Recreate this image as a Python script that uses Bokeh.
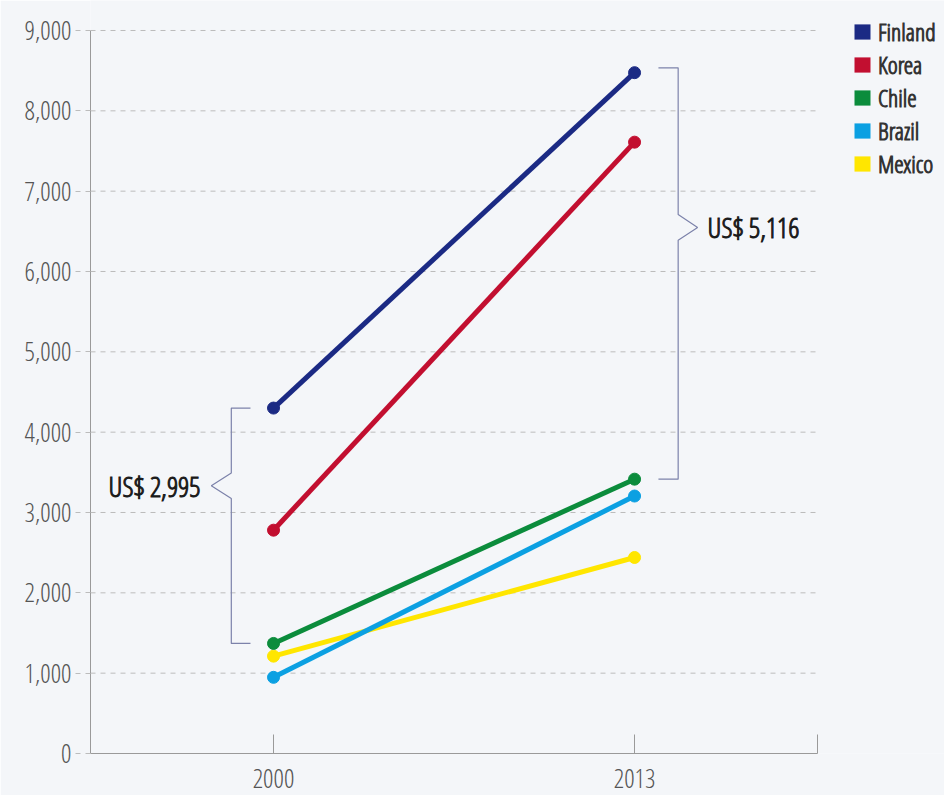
from bokeh.plotting import figure
from bokeh.models import (Range1d, FixedTicker, NumeralTickFormatter, CustomJSTickFormatter,
                          Legend, LegendItem)
from bokeh.core.properties import value
from bokeh.embed import file_html
from bokeh.resources import INLINE

# ---------------- data ----------------
years = [2000, 2013]
countries = ["Finland", "Korea", "Chile", "Brazil", "Mexico"]
finland = [4300, 8475]
korea = [2780, 7610]
chile = [1370, 3415]
brazil = [948, 3205]
mexico = [1212, 2440]
series = [finland, korea, chile, brazil, mexico]
colors = ["#1b2a84", "#c20f30", "#0b8c3c", "#0ba0e2", "#ffe600"]
y_ticks = [0, 1000, 2000, 3000, 4000, 5000, 6000, 7000, 8000, 9000]
gap_labels = ["US$ 2,995", "US$ 5,116"]

# ---------------- styling ----------------
BG = "#f4f6f9"
AXFONT = "Open Sans Condensed Light"
TXFONT = "Open Sans Condensed Light"
BRACKET = "#7c82aa"
GRID = "#bcbcbc"

x_start, x_end = 1993.41, 2019.59
x_frame_end = 2024.16
y_max = 9000
y_frame_end = 9373.4

p = figure(width=944, height=795, output_backend="svg", toolbar_location=None,
           x_range=Range1d(x_start, x_frame_end), y_range=Range1d(0, y_frame_end),
           min_border_left=90, min_border_right=0, min_border_top=0, min_border_bottom=42,
           background_fill_color=BG, border_fill_color=BG, outline_line_color=None)

# y axis
p.yaxis.ticker = FixedTicker(ticks=y_ticks)
p.yaxis.bounds = (0, y_max)
p.yaxis.formatter = NumeralTickFormatter(format="0,0")
p.yaxis.axis_line_color = "#9a9a9a"
p.yaxis.major_tick_in = 0
p.yaxis.major_tick_out = 15
p.yaxis.major_tick_line_color = GRID
p.yaxis.major_tick_line_dash = "5 5"
p.yaxis.minor_tick_line_color = None
p.yaxis.major_label_text_font = AXFONT
p.yaxis.major_label_text_font_size = "26px"
p.yaxis.major_label_text_color = "#555555"
p.yaxis.major_label_standoff = 4

# x axis
p.xaxis.ticker = FixedTicker(ticks=years + [x_end])
p.xaxis.bounds = (x_start, x_end)
p.xaxis.formatter = CustomJSTickFormatter(code="return tick > 2015 ? '' : String(Math.round(tick));")
p.xaxis.axis_line_color = "#9a9a9a"
p.xaxis.major_tick_line_color = "#9a9a9a"
p.xaxis.major_tick_in = 19
p.xaxis.major_tick_out = 0
p.xaxis.minor_tick_line_color = None
p.xaxis.major_label_text_font = AXFONT
p.xaxis.major_label_text_font_size = "26px"
p.xaxis.major_label_text_color = "#555555"
p.xaxis.major_label_standoff = 15

p.xgrid.grid_line_color = None
p.ygrid.grid_line_color = None
grid_y = y_ticks[1:]
p.segment(x0=[x_start] * len(grid_y), x1=[x_end] * len(grid_y), y0=grid_y, y1=grid_y,
          line_color=GRID, line_dash="5 5", line_width=1)

# ---------------- brackets ----------------
def bracket(x_line, x_tick, x_tip, y_top, y_bot, frac, half):
    y_tip = y_top - frac * (y_top - y_bot)
    xs = [x_tick, x_line, x_line, x_tip, x_line, x_line, x_tick]
    ys = [y_top, y_top, y_tip + half, y_tip, y_tip - half, y_bot, y_bot]
    p.line(xs, ys, line_color=BRACKET, line_width=1.2)
    return y_tip

tip0 = bracket(years[0] - 1.52, years[0] - 0.83, years[0] - 2.24,
               finland[0], chile[0], 0.33, 160)
tip1 = bracket(years[1] + 1.57, years[1] + 0.86, years[1] + 2.27,
               finland[1] + 60, chile[1], 0.388, 160)

for xx, yy, lab, al in [(years[0] - 2.63, tip0, gap_labels[0], "right"),
                        (years[1] + 2.63, tip1, gap_labels[1], "left")]:
    p.text(x=[xx], y=[yy], text=[lab], text_align=al, text_baseline="middle",
           text_font=value(TXFONT), text_font_size="28px", text_color="#1a1a1a",
           text_outline_color="#1a1a1a")

# ---------------- lines ----------------
order = [4, 3, 2, 1, 0]
for i in order:
    p.line(years, series[i], line_width=5, line_color=colors[i])
    p.scatter(years, series[i], size=12, fill_color=colors[i], line_color=colors[i])

# ---------------- legend ----------------
items = []
for name, c in zip(countries, colors):
    r = p.quad(left=[float("nan")], right=[float("nan")], top=[float("nan")],
               bottom=[float("nan")], fill_color=c, line_color=None)
    items.append(LegendItem(label=name, renderers=[r]))

legend = Legend(items=items, location=(762, 573), margin=0, padding=0, spacing=0,
                glyph_width=20, glyph_height=19, label_height=32, label_standoff=6,
                label_text_font=TXFONT, label_text_font_size="24px",
                label_text_color="#333333", label_text_outline_color="#333333",
                background_fill_alpha=0, border_line_color=None)
p.add_layout(legend)

open("out.html", "w").write(file_html(p, INLINE))
